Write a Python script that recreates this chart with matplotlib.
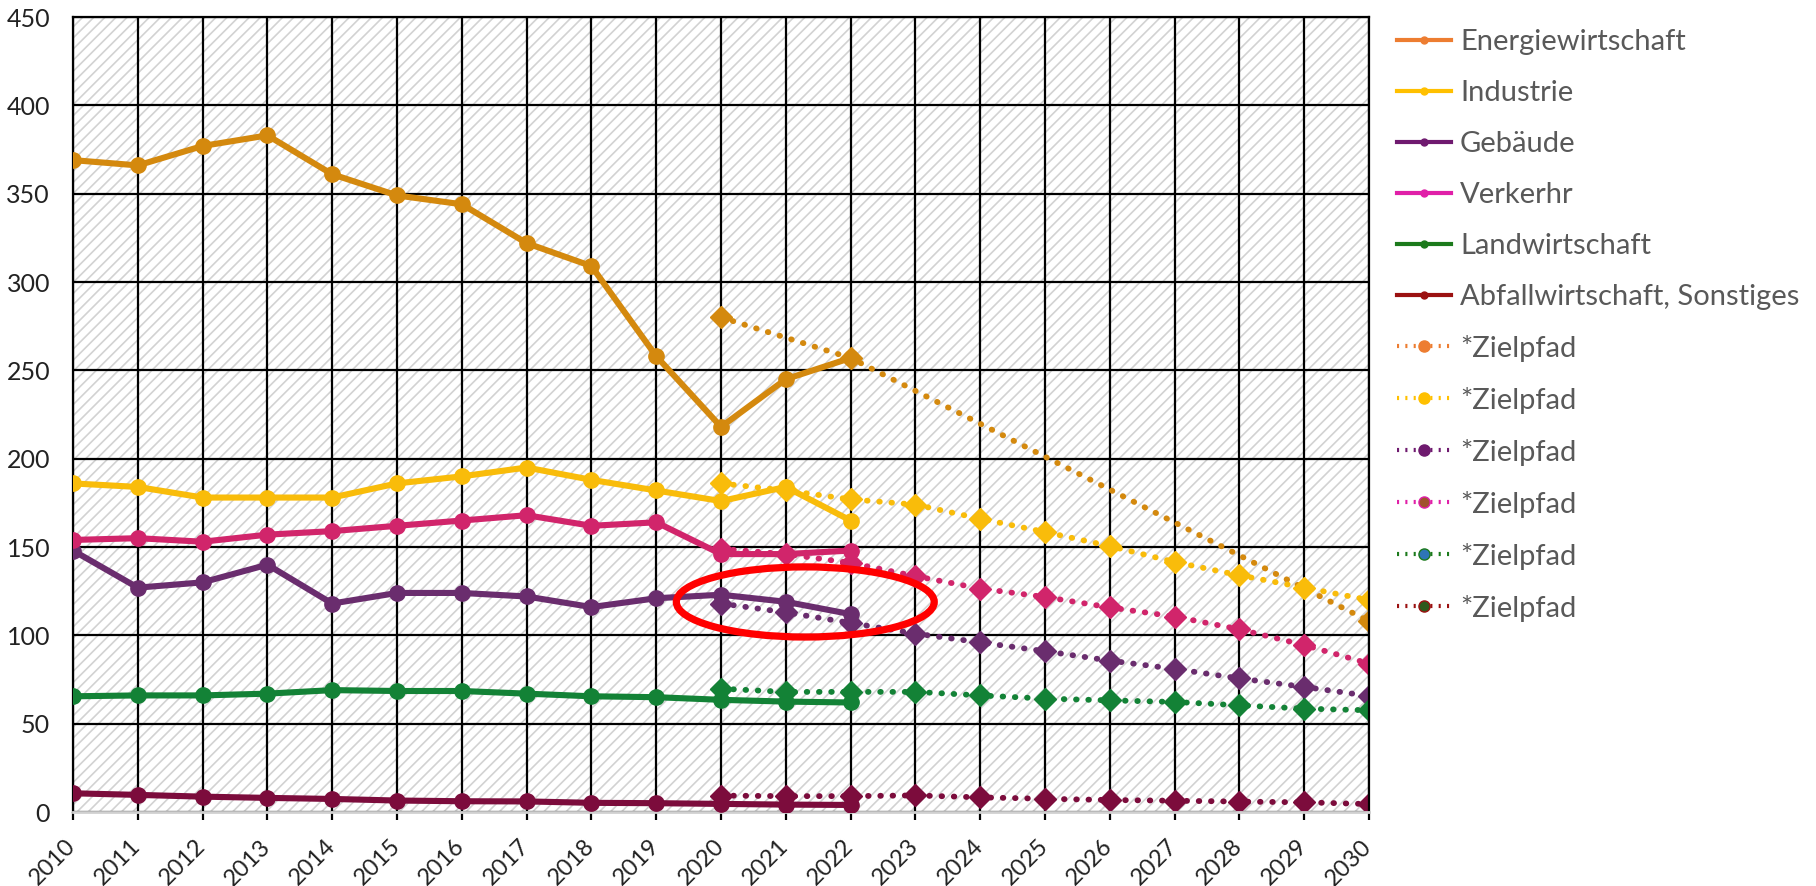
import numpy as np
import matplotlib
matplotlib.use("Agg")
import matplotlib.pyplot as plt
from matplotlib.patches import Rectangle, Ellipse
from matplotlib.lines import Line2D
from matplotlib.transforms import ScaledTranslation

plt.rcParams['font.family'] = ['Lato', 'DejaVu Sans']
plt.rcParams['hatch.linewidth'] = 1.2
plt.rcParams['hatch.color'] = '#D2D2D2'

# DATA
years = list(range(2010, 2023))
energie = [369, 366, 377, 383, 361, 349, 344, 322, 309, 258, 218, 245, 257]
industrie = [186, 184, 178, 178, 178, 186, 190, 195, 188, 182, 176, 184, 165]
gebaeude = [148, 127, 130, 140, 118, 124, 124, 122, 116, 121, 123, 119, 112]
verkehr = [154, 155, 153, 157, 159, 162, 165, 168, 162, 164, 146, 146, 148]
landwirtschaft = [65.5, 66, 66, 67, 69, 68.5, 68.5, 67, 65.5, 65, 63.5, 62.5, 62]
abfall = [10.6, 9.7, 8.7, 8, 7.4, 6.5, 6.1, 6, 5.2, 5, 4.6, 4.2, 4]

nan = np.nan
ziel_years = list(range(2020, 2031))
ziel_energie = [280, nan, 257, nan, nan, nan, nan, nan, nan, nan, 108]
ziel_industrie = [186, 182, 177, 174, 166, 158.5, 150.5, 141.5, 134, 127, 120]
ziel_gebaeude = [118, 113, 107, 101, 96, 91, 85.7, 81, 75.6, 70.8, 65.7]
ziel_verkehr = [149, 146, 141, 133.5, 126.5, 121.7, 115.8, 110.6, 103.4, 94.5, 84]
ziel_landwirtschaft = [69.8, 68, 68, 68, 66, 64.2, 63.2, 62.3, 60.4, 58.5, 57.6]
ziel_abfall = [9.3, 9, 9, 9.4, 8.3, 7.5, 6.8, 6.4, 5.9, 5.5, 4.5]

labels = ['Energiewirtschaft', 'Industrie', 'Gebäude', 'Verkerhr',
          'Landwirtschaft', 'Abfallwirtschaft, Sonstiges']
ziel_label = '*Zielpfad'

# colours of the plotted lines
line_colors = ['#D4890E', '#F9BC0A', '#6A2D6E', '#D1256B', '#138236', '#7C0C3C']
# colours shown in the legend (differ from plotted ones in the original)
legend_colors = ['#ED7D31', '#FFC000', '#6F1A6F', '#E020A8', '#1C7A1C', '#9B1111']
legend_ziel_marker = ['#ED7D31', '#FFC000', '#6F1A6F', '#A0522D', '#2E75B6', '#2E5A1C']

# red highlight ellipse (annotation)
ellipse_center = (2021.3, 118.9)
ellipse_size = (3.98, 39.7)

fig = plt.figure(figsize=(18.16, 8.86), dpi=100)
ax = fig.add_axes([0.0402, 0.0835, 0.7137, 0.8973])

# hatched background
ax.add_patch(Rectangle((0, 0), 1, 1, transform=ax.transAxes, facecolor='white',
                       edgecolor='#D2D2D2', hatch='///', lw=0, zorder=0.1))

actual = [energie, industrie, gebaeude, verkehr, landwirtschaft, abfall]
ziel = [ziel_energie, ziel_industrie, ziel_gebaeude, ziel_verkehr,
        ziel_landwirtschaft, ziel_abfall]

for vals, col in zip(actual, line_colors):
    ax.plot(years, vals, color=col, lw=4.4, marker='o', ms=11,
            solid_joinstyle='round', zorder=3)

for vals, col in zip(ziel, line_colors):
    x = np.array(ziel_years, dtype=float)
    y = np.array(vals, dtype=float)
    ok = ~np.isnan(y)
    ax.plot(x[ok], y[ok], color=col, lw=4.2, linestyle=(0, (0.1, 2.0)),
            dash_capstyle='round', marker='D', ms=11, zorder=2.5)

ax.add_patch(Ellipse(ellipse_center, ellipse_size[0], ellipse_size[1],
                     fill=False, edgecolor='#FF0000', lw=5.2, zorder=5))

ax.set_xlim(2010, 2030)
ax.set_ylim(0, 450)
ax.set_xticks(range(2010, 2031))
ax.set_yticks(range(0, 451, 50))
ax.grid(True, color='black', lw=1.6)
ax.set_axisbelow(True)

for s in ['left', 'top', 'right']:
    ax.spines[s].set_color('black')
    ax.spines[s].set_linewidth(1.6)
ax.spines['bottom'].set_color('#D0D0D0')
ax.spines['bottom'].set_linewidth(2)

ax.tick_params(axis='y', length=0, pad=16.5, labelsize=18, labelcolor='#222222')
ax.tick_params(axis='x', length=6, width=1.6, color='black', direction='out',
               pad=11, labelsize=17, labelcolor='#222222')
for lab in ax.get_xticklabels():
    lab.set_rotation(45)
    lab.set_ha('right')
    lab.set_va('top')
    lab.set_transform(lab.get_transform() + ScaledTranslation(0.07, 0, fig.dpi_scale_trans))

# legend
handles = []
for col in legend_colors:
    handles.append(Line2D([], [], color=col, lw=3, marker='o', ms=5))
for col, mcol in zip(legend_colors, legend_ziel_marker):
    handles.append(Line2D([], [], color=col, lw=3, linestyle=(0, (0.5, 1.5)),
                          marker='o', ms=8, mfc=mcol, mec=col))
leg = fig.legend(handles, labels + [ziel_label] * 6, loc='upper left',
                 bbox_to_anchor=(0.755, 0.997), frameon=False, fontsize=21,
                 handlelength=1.85, handletextpad=0.3, labelspacing=0.856,
                 labelcolor='#595959')

fig.savefig('out.png', dpi=100)
